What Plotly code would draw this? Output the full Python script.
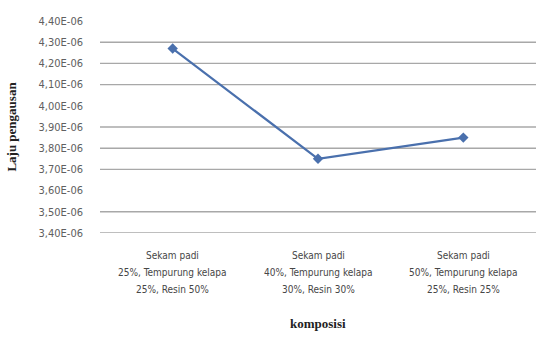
import plotly.graph_objects as go

# Wear rate for each composite composition
categories = ["Komposisi A", "Komposisi B", "Komposisi C"]
category_lines = [
    ["Sekam padi", "25%, Tempurung kelapa", "25%, Resin 50%"],
    ["Sekam padi", "40%, Tempurung kelapa", "30%, Resin 30%"],
    ["Sekam padi", "50%, Tempurung kelapa", "25%, Resin 25%"],
]
laju_pengausan = [4.27e-6, 3.75e-6, 3.85e-6]

# Y axis ticks and the horizontal rules drawn across the plot
tick_values = [3.40e-6, 3.50e-6, 3.60e-6, 3.70e-6, 3.80e-6, 3.90e-6,
               4.00e-6, 4.10e-6, 4.20e-6, 4.30e-6, 4.40e-6]
grid_values = [3.40e-6, 3.50e-6, 3.70e-6, 3.80e-6, 3.90e-6,
               4.10e-6, 4.20e-6, 4.30e-6]
tick_text = [f"{v:.2E}".replace(".", ",") for v in tick_values]

fig = go.Figure()

for g in grid_values:
    fig.add_shape(type="line", xref="paper", yref="y", x0=0, x1=1, y0=g, y1=g,
                  line=dict(color="#a8a8a8", width=1.4), layer="below")

fig.add_trace(go.Scatter(
    x=categories, y=laju_pengausan, mode="lines+markers",
    line=dict(color="#4a70ad", width=2.2),
    marker=dict(symbol="diamond", size=8, color="#4a70ad"),
    showlegend=False,
))

# Multi-line category labels under each point
for cat, lines in zip(categories, category_lines):
    for i, line in enumerate(lines):
        fig.add_annotation(x=cat, xref="x", y=0, yref="paper",
                           text=line, showarrow=False,
                           yanchor="middle", yshift=-22 - 17 * i,
                           font=dict(size=10, color="#464646"))

# Horizontal axis title
fig.add_annotation(x=0.5, xref="paper", y=0, yref="paper",
                   text="<b>komposisi</b>", showarrow=False,
                   yanchor="middle", yshift=-90,
                   font=dict(family="Liberation Serif, DejaVu Serif, serif",
                             size=13, color="#222222"))

fig.update_layout(
    width=539, height=342,
    margin=dict(l=100, r=3, t=21, b=109),
    paper_bgcolor="white", plot_bgcolor="white",
    font=dict(family="Liberation Sans Narrow, DejaVu Sans Condensed, sans-serif",
              size=10, color="#555555"),
    xaxis=dict(
        range=[-0.5, 2.5], showticklabels=False,
        showgrid=False, showline=False, zeroline=False, ticks="",
    ),
    yaxis=dict(
        range=[3.40e-6, 4.40e-6], tickvals=tick_values, ticktext=tick_text,
        showgrid=False, zeroline=False, showline=False, ticks="",
        tickfont=dict(size=11, color="#606060"), ticklabelstandoff=16,
        title=dict(text="<b>Laju pengausan</b>", standoff=18,
                   font=dict(family="Liberation Serif, DejaVu Serif, serif",
                             size=13, color="#222222")),
    ),
)

fig.write_html("out.html")
